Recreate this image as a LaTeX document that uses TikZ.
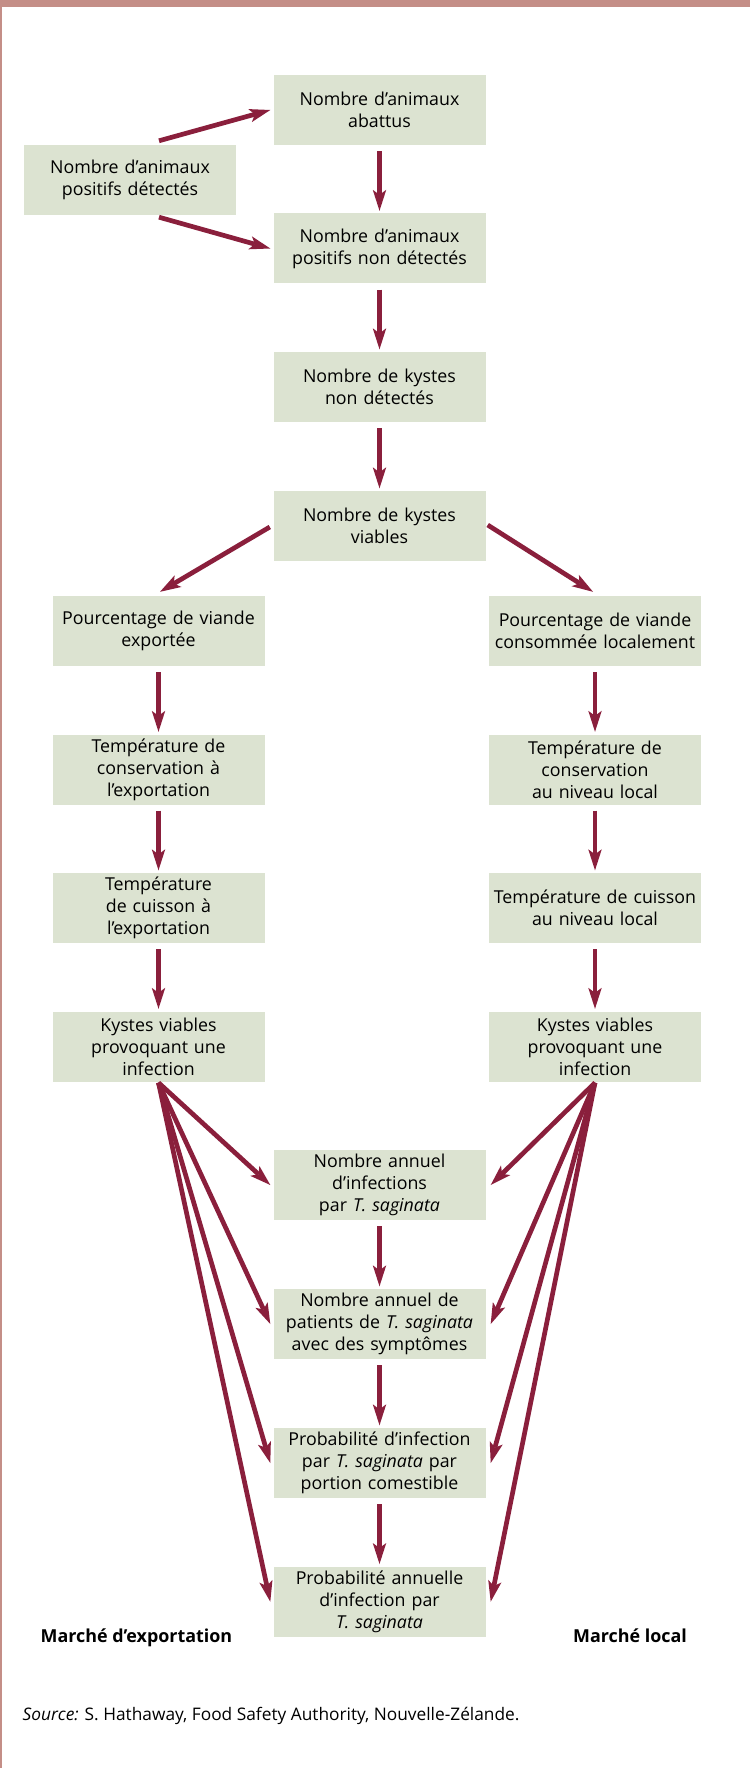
\documentclass[tikz,border=0pt]{standalone}
\usepackage{fontspec}
\setmainfont{Open Sans}
\usetikzlibrary{arrows.meta,calc}

\definecolor{boxfill}{HTML}{DCE3D1}
\definecolor{arrowc}{HTML}{8A1F3C}
\definecolor{framec}{HTML}{C48E87}

\tikzset{
  stepbox/.style={fill=boxfill, draw=none, text width=209pt, inner xsep=1.5pt,
    inner ysep=0pt, minimum height=70pt, align=center,
    font=\fontsize{17.8}{22}\selectfont},
  flow/.style={draw=arrowc, line width=4.7pt,
    -{Stealth[length=21pt,width=13.5pt,inset=5pt,line width=0pt]}},
  marketlabel/.style={anchor=base west, inner sep=0pt,
    font=\fontsize{17.9}{22}\selectfont\bfseries},
}

\begin{document}
\begin{tikzpicture}[x=1pt,y=-1pt]
\useasboundingbox (0,0) rectangle (750,1768);
% frame: top band and thin left rule
\fill[framec] (0,0) rectangle (750,7);
\fill[framec] (0,0) rectangle (1.6,1768);

% central chain
\node[stepbox] (abat)   at (379.5,110)   {Nombre d’animaux\\abattus};
\node[stepbox] (det)    at (130,180)     {Nombre d’animaux\\positifs détectés};
\node[stepbox] (nondet) at (379.5,248.5) {Nombre d’animaux\\positifs non détectés};
\node[stepbox] (kyst)   at (379.5,387)   {Nombre de kystes\\non détectés};
\node[stepbox] (viab)   at (379.5,526)   {Nombre de kystes\\viables};

% export branch
\node[stepbox] (pexp) at (158.5,631)    {Pourcentage de viande\\exportée};
\node[stepbox] (cexp) at (158.5,769.5)  {Température de\\conservation à\\l’exportation};
\node[stepbox] (kexp) at (158.5,908)    {Température\\de cuisson à\\l’exportation};
\node[stepbox] (vexp) at (158.5,1046.5) {Kystes viables\\provoquant une\\infection};

% local branch
\node[stepbox] (ploc) at (595,631)    {Pourcentage de viande\\consommée localement};
\node[stepbox] (cloc) at (595,769.5)  {Température de\\conservation\\au niveau local};
\node[stepbox] (kloc) at (595,908)    {Température de cuisson\\au niveau local};
\node[stepbox] (vloc) at (595,1046.5) {Kystes viables\\provoquant une\\infection};

% outcomes
\node[stepbox] (inf)  at (379.5,1185)   {Nombre annuel\\d’infections\\par \textit{T. saginata}};
\node[stepbox] (pat)  at (379.5,1324)   {Nombre annuel de\\patients de \textit{T. saginata}\\avec des symptômes};
\node[stepbox] (port) at (379.5,1463)   {Probabilité d’infection\\par \textit{T. saginata} par\\portion comestible};
\node[stepbox] (ann)  at (379.5,1601.7) {Probabilité annuelle\\d’infection par\\\textit{T. saginata}};

% labels
\node[marketlabel] (lexp) at (40.5,1642) {Marché d’exportation};
\node[marketlabel] (lloc) at (573,1642) {Marché local};
\node[anchor=base west, inner sep=0pt, font=\fontsize{17.3}{22}\selectfont] (src)
  at (22.5,1720) {\textit{Source:} S. Hathaway, Food Safety Authority, Nouvelle-Zélande.};

% connectors
\draw[flow] ($(det.north)+(29,-4)$) -- ($(abat.west)+(-3,0)$);
\draw[flow] ($(det.south)+(29,2)$) -- ($(nondet.west)+(-3,0)$);
\foreach \a/\b in {abat/nondet, nondet/kyst, kyst/viab,
                   pexp/cexp, cexp/kexp, kexp/vexp,
                   ploc/cloc, cloc/kloc, kloc/vloc, inf/pat, pat/port, port/ann}
  \draw[flow] ($(\a.south)+(0,6)$) -- ($(\b.north)+(0,-2.5)$);
\draw[flow] ($(viab.west)+(-3.5,1)$) -- ($(pexp.north)+(1.5,-4)$);
\draw[flow] ($(viab.east)+(2,-1)$) -- ($(ploc.north)+(-2,-4)$);
\foreach \t in {inf, pat, port, ann} {
  \draw[flow] ($(vexp.south)+(0,1)$) -- ($(\t.west)+(-3,0)$);
  \draw[flow] ($(vloc.south)+(0,1)$) -- ($(\t.east)+(5,0)$);
}
\end{tikzpicture}
\end{document}
